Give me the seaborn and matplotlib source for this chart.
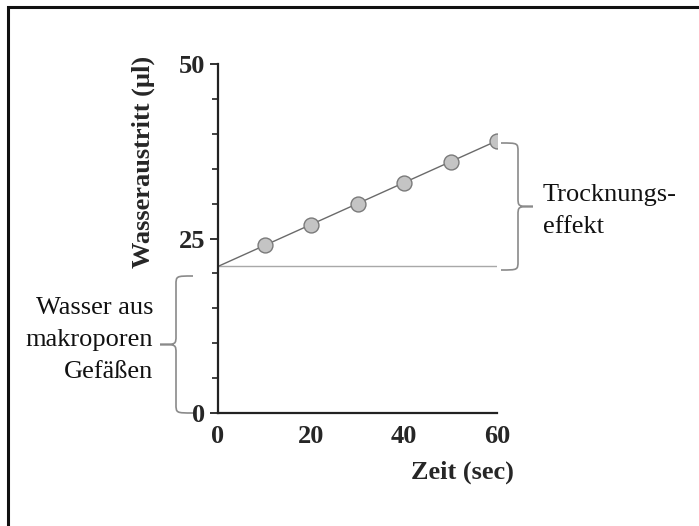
import numpy as np
import pandas as pd
import seaborn as sns
import matplotlib
matplotlib.use("Agg")
import matplotlib.pyplot as plt
from matplotlib.path import Path
from matplotlib.patches import PathPatch, Rectangle
from matplotlib.ticker import MultipleLocator

# Measured water release over time
zeit = [10, 20, 30, 40, 50, 60]
wasser = [24, 27, 30, 33, 36, 39]

x_ticks = [0, 20, 40, 60]
y_ticks = [0, 25, 50]

df = pd.DataFrame({"Zeit": zeit, "Wasser": wasser})
slope, intercept = np.polyfit(zeit, wasser, 1)
fit = pd.DataFrame({"Zeit": [0, 60], "Wasser": [intercept, intercept + slope * 60]})
base = pd.DataFrame({"Zeit": [0, 60], "Wasser": [intercept, intercept]})

sns.set_style("white")
plt.rcParams["font.family"] = ["Liberation Serif", "DejaVu Serif"]

W, H = 699, 526
fig = plt.figure(figsize=(W / 100, H / 100), dpi=100)
ax = fig.add_axes([218 / W, 1 - 413 / H, (497 - 218) / W, (413 - 64) / H])

sns.lineplot(data=base, x="Zeit", y="Wasser", ax=ax, color="#a8a8a8", lw=1.0)
sns.lineplot(data=fit, x="Zeit", y="Wasser", ax=ax, color="#6a6a6a", lw=1.0)
sns.scatterplot(data=df, x="Zeit", y="Wasser", ax=ax, s=115, color="#c4c4c4",
                edgecolor="#7a7a7a", linewidth=1.0, zorder=3)

ax.set_xlim(0, 60)
ax.set_ylim(0, 50)
ax.set_xticks(x_ticks)
ax.set_yticks(y_ticks)
ax.xaxis.set_minor_locator(MultipleLocator(10))
ax.yaxis.set_minor_locator(MultipleLocator(5))
for s in ("top", "right"):
    ax.spines[s].set_visible(False)
for s in ("left", "bottom"):
    ax.spines[s].set_color("#222222")
    ax.spines[s].set_linewidth(1.6)
ax.tick_params(axis="x", which="major", direction="inout", length=9, width=1.3,
               color="#222222", pad=4, labelsize=19)
ax.tick_params(axis="x", which="minor", direction="in", length=4, width=1.2, color="#222222")
ax.tick_params(axis="y", which="major", direction="out", length=6, width=1.3,
               color="#222222", pad=3, labelsize=19, left=True)
ax.tick_params(axis="y", which="minor", direction="out", length=4, width=1.2,
               color="#222222", left=True)
for lab in ax.get_xticklabels() + ax.get_yticklabels():
    lab.set_fontweight("bold")

ax.set_xlabel("Zeit (sec)", fontsize=19, fontweight="bold", ha="right")
ax.xaxis.set_label_coords(1.06, -0.135)
ax.set_ylabel("Wasseraustritt (µl)", fontsize=19, fontweight="bold")
ax.yaxis.set_label_coords(-0.225, 0.72)


def brace(x_end, x_mid, x_tip, y_top, y_bot, r=9):
    """Curly brace in pixel coordinates (y measured downward)."""
    y_mid = (y_top + y_bot) / 2
    pts = [(x_end, y_top),
           (x_mid, y_top), (x_mid, y_top), (x_mid, y_top + r),
           (x_mid, y_mid - r),
           (x_mid, y_mid), (x_mid, y_mid), (x_tip, y_mid),
           (x_mid, y_mid), (x_mid, y_mid), (x_mid, y_mid + r),
           (x_mid, y_bot - r),
           (x_mid, y_bot), (x_mid, y_bot), (x_end, y_bot)]
    codes = [Path.MOVETO,
             Path.CURVE4, Path.CURVE4, Path.CURVE4,
             Path.LINETO,
             Path.CURVE4, Path.CURVE4, Path.CURVE4,
             Path.CURVE4, Path.CURVE4, Path.CURVE4,
             Path.LINETO,
             Path.CURVE4, Path.CURVE4, Path.CURVE4]
    verts = [(x, H - y) for x, y in pts]
    fig.add_artist(PathPatch(Path(verts, codes), transform=None, fill=False,
                             edgecolor="#8a8a8a", lw=1.2))


brace(501, 518, 533, 143, 270)
brace(193, 176, 160, 276, 413)

fig.text(543 / W, 1 - 211 / H, "Trocknungs-\neffekt", fontsize=19,
         ha="left", va="center", linespacing=1.55, color="#111111")
fig.text(153 / W, 1 - 340 / H, "Wasser aus\nmakroporen\nGefäßen", fontsize=19,
         ha="right", va="center", linespacing=1.6, multialignment="right",
         color="#111111")

fig.add_artist(Rectangle((8 / W, -0.1), 1.2, 1.1 - 7 / H, transform=fig.transFigure,
                         fill=False, edgecolor="#111111", lw=2.2))

fig.savefig("out.png", dpi=100)
